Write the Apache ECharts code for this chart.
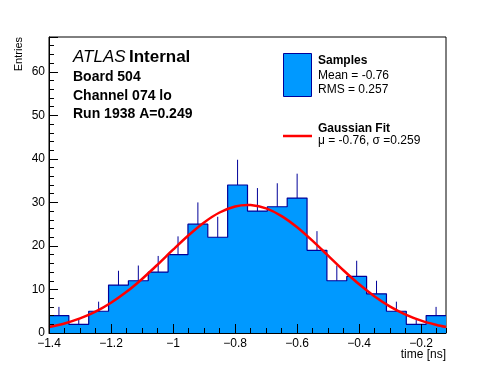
<!DOCTYPE html>
<html><head><meta charset="utf-8">
<script src="https://cdn.jsdelivr.net/npm/echarts@6/dist/echarts.min.js"></script>
<style>html,body{margin:0;padding:0;background:#fff}#c{width:496px;height:372px}</style>
</head><body><div id="c"></div>
<script>
// Histogram: 20 bins from -1.4 ns, width 0.064 ns
const lowEdge = -1.4;
const binWidth = 0.064;
const counts = [4, 2, 5, 11, 12, 14, 18, 25, 22, 34, 28, 29, 31, 19, 12, 13, 9, 5, 2, 4];
const errors = [2.0, 1.4, 2.2, 3.3, 3.5, 3.7, 4.2, 5.0, 4.7, 5.8, 5.3, 5.4, 5.6, 4.4, 3.5, 3.6, 3.0, 2.2, 1.4, 2.0];
// Gaussian fit curve, read at these times
const fitX = [-1.40, -1.35, -1.30, -1.25, -1.20, -1.15, -1.10, -1.05, -1.00, -0.95, -0.90, -0.85, -0.80, -0.76, -0.75, -0.70, -0.65, -0.60, -0.55, -0.50, -0.45, -0.40, -0.35, -0.30, -0.25, -0.20, -0.15, -0.12];
const fitY = [1.39, 2.20, 3.35, 4.91, 6.95, 9.46, 12.42, 15.71, 19.14, 22.46, 25.40, 27.68, 29.05, 29.40, 29.38, 28.62, 26.86, 24.29, 21.16, 17.76, 14.36, 11.19, 8.40, 6.07, 4.23, 2.84, 1.84, 1.39];
const xTicks = [-1.4, -1.2, -1.0, -0.8, -0.6, -0.4, -0.2];
const yTicks = [0, 10, 20, 30, 40, 50, 60];

const xMin = -1.4, xMax = -0.12, yMin = 0, yMax = 68;
const FONT = '"Liberation Sans", Arial, Helvetica, sans-serif';
const FILL = '#0099ff', EDGE = '#000099';

const edges = counts.map((_, i) => lowEdge + i * binWidth);
const binData = counts.map((v, i) => [edges[i], edges[i] + binWidth, v, errors[i]]);
const stepData = counts.map((v, i) => [edges[i], v]);
stepData.push([lowEdge + counts.length * binWidth, counts[counts.length - 1]]);

const fmtX = v => {
  const r = Math.round(v * 100) / 100;
  if (!xTicks.some(t => Math.abs(t - r) < 1e-6)) return '';
  return String(r).replace('-', '\u2212');
};

const chart = echarts.init(document.getElementById('c'), null, {renderer: 'canvas'});
chart.setOption({
  animation: false,
  backgroundColor: '#fff',
  grid: {left: 49, right: 50, top: 37, bottom: 39, show: true, borderColor: '#000', borderWidth: 1, backgroundColor: 'transparent'},
  xAxis: [{
    type: 'value', min: xMin, max: xMax, interval: 0.2,
    axisLine: {show: true, lineStyle: {color: '#000', width: 1}},
    axisTick: {show: true, inside: true, length: 9, lineStyle: {color: '#000'}},
    splitLine: {show: false},
    axisLabel: {color: '#000', fontFamily: FONT, fontSize: 12, margin: 5, showMaxLabel: false, formatter: fmtX},
    z: 10
  }, {
    type: 'value', min: xMin, max: xMax, interval: 0.05, position: 'bottom',
    axisLine: {show: false},
    axisTick: {show: true, inside: true, length: 5, lineStyle: {color: '#000'}},
    axisLabel: {show: false}, splitLine: {show: false}, z: 10
  }],
  yAxis: {
    type: 'value', min: yMin, max: yMax, interval: 10,
    axisLine: {show: true, lineStyle: {color: '#000', width: 1}},
    axisTick: {show: true, inside: true, length: 9, lineStyle: {color: '#000'}},
    minorTick: {show: true, splitNumber: 5, length: 5, lineStyle: {color: '#000'}},
    splitLine: {show: false},
    axisLabel: {color: '#000', fontFamily: FONT, fontSize: 12, margin: 4, showMaxLabel: false,
      formatter: v => yTicks.includes(v) ? String(v) : ''},
    z: 10
  },
  series: [{
    type: 'line', name: 'Samples', step: 'end', data: stepData, symbol: 'none', z: 2,
    lineStyle: {color: EDGE, width: 1.2},
    areaStyle: {color: FILL, opacity: 1, origin: 'start'}
  }, {
    type: 'custom', name: 'errors', xAxisIndex: 0, z: 3,
    data: binData,
    encode: {x: [0, 1], y: 2},
    renderItem: (params, api) => {
      const xc = (api.value(0) + api.value(1)) / 2;
      const top = api.coord([xc, api.value(2)]);
      const eTop = api.coord([xc, api.value(2) + api.value(3)]);
      return {type: 'line', shape: {x1: top[0], y1: top[1], x2: eTop[0], y2: eTop[1]}, style: {stroke: EDGE, lineWidth: 1}};
    }
  }, {
    type: 'line', name: 'Gaussian Fit', smooth: 0.3, symbol: 'none', z: 4,
    data: fitX.map((x, i) => [x, fitY[i]]),
    lineStyle: {color: '#ff0000', width: 2.5}
  }],
  graphic: [
    {type: 'text', x: 13, y: 37, rotation: Math.PI / 2, style: {text: 'Entries', font: '11px ' + FONT, fill: '#000', align: 'right', verticalAlign: 'top'}},
    {type: 'text', x: 446, y: 355, style: {text: 'time [ns]', font: '12px ' + FONT, fill: '#000', align: 'right', verticalAlign: 'middle'}},
    {type: 'text', x: 73, y: 57, style: {rich: {i: {fontFamily: FONT, fontSize: 17, fontStyle: 'italic', fill: '#000'}, b: {fontFamily: FONT, fontSize: 17, fontWeight: 'bold', fill: '#000'}}, text: '{i|ATLAS} {b|Internal}', verticalAlign: 'middle'}},
    {type: 'text', x: 73, y: 77, style: {text: 'Board 504', font: 'bold 14px ' + FONT, fill: '#000', verticalAlign: 'middle'}},
    {type: 'text', x: 73, y: 96.5, style: {text: 'Channel 074 lo', font: 'bold 14px ' + FONT, fill: '#000', verticalAlign: 'middle'}},
    {type: 'text', x: 73, y: 114, style: {text: 'Run 1938 A=0.249', font: 'bold 14px ' + FONT, fill: '#000', verticalAlign: 'middle'}},
    {type: 'rect', shape: {x: 283.5, y: 53.5, width: 28, height: 43}, style: {fill: FILL, stroke: EDGE, lineWidth: 1}},
    {type: 'text', x: 318, y: 61, style: {text: 'Samples', font: 'bold 12px ' + FONT, fill: '#000', verticalAlign: 'middle'}},
    {type: 'text', x: 318, y: 76, style: {text: 'Mean = -0.76', font: '12px ' + FONT, fill: '#000', verticalAlign: 'middle'}},
    {type: 'text', x: 318, y: 90, style: {text: 'RMS = 0.257', font: '12px ' + FONT, fill: '#000', verticalAlign: 'middle'}},
    {type: 'line', shape: {x1: 283, y1: 136, x2: 312, y2: 136}, style: {stroke: '#ff0000', lineWidth: 2.5}},
    {type: 'text', x: 318, y: 129, style: {text: 'Gaussian Fit', font: 'bold 12px ' + FONT, fill: '#000', verticalAlign: 'middle'}},
    {type: 'text', x: 318, y: 141, style: {text: '\u03bc = -0.76, \u03c3 =0.259', font: '12px ' + FONT, fill: '#000', verticalAlign: 'middle'}}
  ]
});
</script></body></html>
